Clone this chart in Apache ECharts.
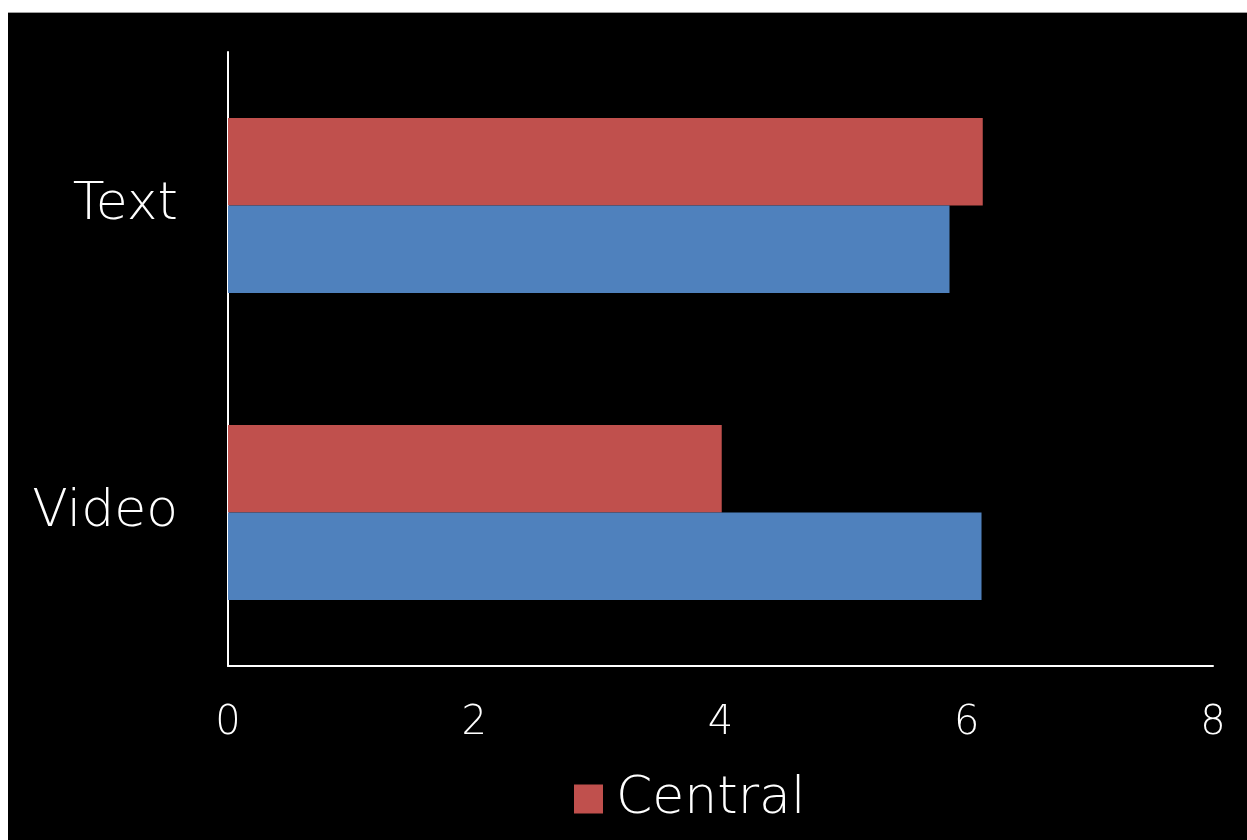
<!DOCTYPE html>
<html>
<head>
<meta charset="utf-8">
<script src="https://cdn.jsdelivr.net/npm/echarts@6/dist/echarts.min.js"></script>
<style>
html,body{margin:0;padding:0;background:#ffffff;width:1247px;height:840px;overflow:hidden;}
#chart{position:absolute;left:8px;top:12px;width:1239px;height:828px;background:#000;border-top:1px solid #a0a0a0;box-sizing:border-box;}
</style>
</head>
<body>
<div id="chart"></div>
<script>
const categories = ['Video', 'Text'];
const centralValues = [4.01, 6.13];
const otherValues = [6.12, 5.86];
const xTicks = [0, 2, 4, 6, 8];

const FONT = '"DejaVu Sans", sans-serif';
const chart = echarts.init(document.getElementById('chart'));
chart.setOption({
  backgroundColor: '#000',
  animation: false,
  grid: { left: 220, top: 39, right: 34, bottom: 174 },
  legend: {
    data: ['Central'],
    left: 566, top: 760, padding: 0,
    itemWidth: 29, itemHeight: 29, icon: 'rect',
    textStyle: { color: '#fff', fontSize: 52, fontWeight: 200, fontFamily: FONT, padding: [4, 0, 0, 8] }
  },
  xAxis: {
    type: 'value', min: xTicks[0], max: xTicks[xTicks.length - 1], interval: 2,
    axisLine: { show: true, lineStyle: { color: '#fff', width: 2 } },
    axisTick: { show: false },
    splitLine: { show: false },
    axisLabel: { color: '#fff', fontSize: 40, fontWeight: 200, fontFamily: FONT, margin: 38 }
  },
  yAxis: {
    type: 'category', data: categories,
    axisLine: { show: true, lineStyle: { color: '#fff', width: 2 } },
    axisTick: { show: false },
    axisLabel: { color: '#fff', fontSize: 52, fontWeight: 200, fontFamily: FONT, margin: 50, lineHeight: 52, padding: [10, 0, 0, 0] }
  },
  series: [
    { name: 'Central', type: 'bar', data: centralValues, itemStyle: { color: '#C0504D' },
      barGap: '0%', barCategoryGap: '43%' },
    { name: 'Remote', type: 'bar', data: otherValues, itemStyle: { color: '#4F81BD' },
      barGap: '0%', barCategoryGap: '43%' }
  ]
});
</script>
</body>
</html>
